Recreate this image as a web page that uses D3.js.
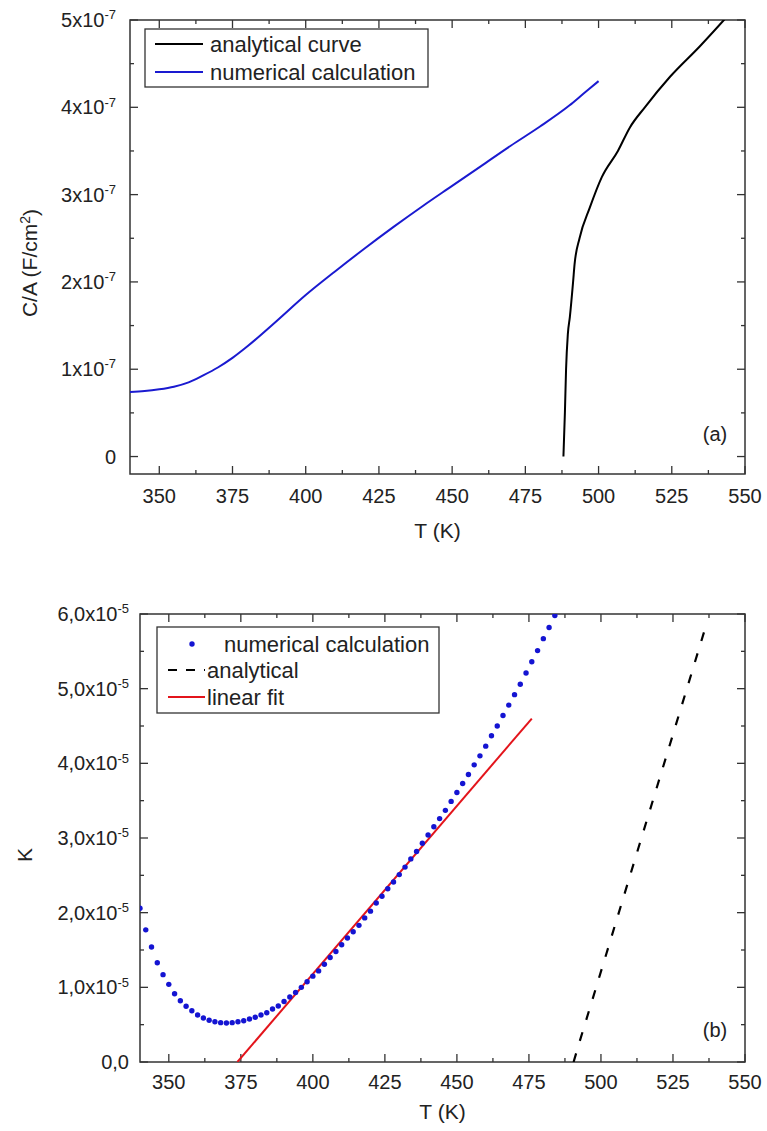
<!DOCTYPE html>
<html><head><meta charset="utf-8">
<script src="https://cdn.jsdelivr.net/npm/d3@7"></script>
<style>html,body{margin:0;padding:0;background:#fff;}svg{display:block;font-family:"Liberation Sans",Arial,sans-serif;}</style>
</head><body>
<svg id="chart" width="767" height="1131"></svg>
<script>
// ---------- DATA ----------
// Panel (a): C/A vs T
const topXTicks = [350, 375, 400, 425, 450, 475, 500, 525, 550];
const topYTicks = [0, 1, 2, 3, 4, 5];           // x 1e-7
const analyticalT = [488.0, 488.5, 488.9, 489.5, 490.2, 491.3, 491.8, 493.5, 497.0, 501.1, 506.6, 510.7, 515.8, 524.4, 534.6, 542.8, 546];
const analyticalC = [0, 0.5, 1.0, 1.4, 1.6, 2.0, 2.2, 2.5, 2.85, 3.2, 3.5, 3.77, 4.0, 4.35, 4.7, 5.0, 5.12];
const numericT = [340, 345, 350, 355, 360, 365, 370, 375, 380, 390, 400, 410, 420, 430, 440, 450, 460, 470, 480, 490, 495, 500];
const numericC = [0.74, 0.75, 0.77, 0.80, 0.85, 0.93, 1.02, 1.13, 1.26, 1.55, 1.85, 2.12, 2.38, 2.63, 2.87, 3.10, 3.33, 3.56, 3.78, 4.02, 4.16, 4.30];

// Panel (b): K vs T
const botXTicks = [350, 375, 400, 425, 450, 475, 500, 525, 550];
const botYTicks = [0, 1, 2, 3, 4, 5, 6];        // x 1e-5
const dotT = [340, 342, 344, 346, 348, 350, 352, 354, 356, 358, 360, 362, 364, 366, 368, 370, 372, 374, 376, 378, 380, 382, 384, 386, 388, 390, 392, 394, 396, 398, 400, 402, 404, 406, 408, 410, 412, 414, 416, 418, 420, 422, 424, 426, 428, 430, 432, 434, 436, 438, 440, 442, 444, 446, 448, 450, 452, 454, 456, 458, 460, 462, 464, 466, 468, 470, 472, 474, 476, 478, 480, 482, 484];
const dotK = [2.06, 1.77, 1.54, 1.33, 1.17, 1.04, 0.915, 0.82, 0.746, 0.687, 0.63, 0.59, 0.56, 0.54, 0.527, 0.522, 0.527, 0.54, 0.553, 0.576, 0.60, 0.63, 0.66, 0.71, 0.75, 0.81, 0.87, 0.93, 1.00, 1.075, 1.15, 1.22, 1.31, 1.40, 1.48, 1.57, 1.66, 1.745, 1.83, 1.93, 2.02, 2.13, 2.22, 2.32, 2.41, 2.51, 2.61, 2.72, 2.82, 2.93, 3.04, 3.15, 3.26, 3.37, 3.49, 3.61, 3.73, 3.85, 3.98, 4.10, 4.23, 4.37, 4.50, 4.64, 4.78, 4.92, 5.06, 5.21, 5.36, 5.51, 5.67, 5.82, 5.98];
const dashT = [490.5, 492.1, 501.96, 513.5, 525.1, 536.7];
const dashK = [0, 0.21, 1.46, 2.93, 4.40, 5.875];
const fitT = [373.8, 476];
const fitK = [0, 4.6];

// ---------- DRAW ----------
const svg = d3.select("#chart");
const FRAME = "#333";

function yLabel(g, y, mant, exp, anchorX, fsMain, fsSup) {
  const t = g.append("text").attr("x", anchorX).attr("y", y).attr("text-anchor", "end")
    .attr("font-size", fsMain).attr("fill", "#222").attr("dy", "0.35em");
  if (exp === null) { t.text(mant); return; }
  t.append("tspan").text(mant + "x10");
  t.append("tspan").attr("font-size", fsSup).attr("dy", "-0.6em").text(exp);
}

function panel(opts) {
  const {L, R, T, B, xDom, yDom, xTicks, xMinor, yTicks, yMinor, yScaleF, yFmt, yLabX, xLabY, xTitleY, yTitle, yTitleX, yTitleY, id, tag, tagX, tagY} = opts;
  const x = d3.scaleLinear().domain(xDom).range([L, R]);
  const y = d3.scaleLinear().domain(yDom).range([B, T]);
  const g = svg.append("g");
  svg.append("clipPath").attr("id", id).append("rect").attr("x", L).attr("y", T).attr("width", R - L).attr("height", B - T);
  const tk = g.append("g").attr("stroke", FRAME).attr("stroke-width", 1.3);
  xTicks.forEach(v => {
    tk.append("line").attr("x1", x(v)).attr("x2", x(v)).attr("y1", B).attr("y2", B - 8);
    tk.append("line").attr("x1", x(v)).attr("x2", x(v)).attr("y1", T).attr("y2", T + 8);
  });
  xMinor.forEach(v => {
    tk.append("line").attr("x1", x(v)).attr("x2", x(v)).attr("y1", B).attr("y2", B - 4);
    tk.append("line").attr("x1", x(v)).attr("x2", x(v)).attr("y1", T).attr("y2", T + 4);
  });
  yTicks.forEach(v => {
    tk.append("line").attr("y1", y(v * yScaleF)).attr("y2", y(v * yScaleF)).attr("x1", L).attr("x2", L + 8);
    tk.append("line").attr("y1", y(v * yScaleF)).attr("y2", y(v * yScaleF)).attr("x1", R).attr("x2", R - 8);
  });
  yMinor.forEach(v => {
    tk.append("line").attr("y1", y(v * yScaleF)).attr("y2", y(v * yScaleF)).attr("x1", L).attr("x2", L + 4);
    tk.append("line").attr("y1", y(v * yScaleF)).attr("y2", y(v * yScaleF)).attr("x1", R).attr("x2", R - 4);
  });
  g.append("rect").attr("x", L).attr("y", T).attr("width", R - L).attr("height", B - T)
    .attr("fill", "none").attr("stroke", FRAME).attr("stroke-width", 1.5);
  xTicks.forEach(v => {
    g.append("text").attr("x", x(v)).attr("y", xLabY).attr("text-anchor", "middle").attr("dy", "0.35em")
      .attr("font-size", 20).attr("fill", "#222").text(v);
  });
  yTicks.forEach(v => {
    const f = yFmt(v);
    yLabel(g, y(v * yScaleF), f[0], f[1], yLabX, 20, 13);
  });
  g.append("text").attr("x", (L + R) / 2).attr("y", xTitleY).attr("text-anchor", "middle").attr("dy", "0.35em")
    .attr("font-size", 21).attr("fill", "#222").text("T (K)");
  const yt = g.append("text").attr("transform", `translate(${yTitleX},${yTitleY}) rotate(-90)`)
    .attr("text-anchor", "middle").attr("dy", "0.35em").attr("font-size", 21).attr("fill", "#222");
  yTitle(yt);
  g.append("text").attr("x", tagX).attr("y", tagY).attr("text-anchor", "middle").attr("dy", "0.35em")
    .attr("font-size", 20).attr("fill", "#222").text(tag);
  return {x, y, g, clip: `url(#${id})`};
}

// ----- Panel (a) -----
const pa = panel({
  L: 130, R: 745, T: 20, B: 474, xDom: [340, 550], yDom: [-0.2e-7, 5e-7],
  xTicks: topXTicks, xMinor: topXTicks.slice(0, -1).map(v => v + 12.5),
  yTicks: topYTicks, yMinor: [0.5, 1.5, 2.5, 3.5, 4.5], yScaleF: 1e-7,
  yFmt: v => v === 0 ? ["0", null] : [String(v), "-7"],
  yLabX: 116, xLabY: 496, xTitleY: 531,
  yTitle: t => { t.append("tspan").text("C/A (F/cm"); t.append("tspan").attr("font-size", 14).attr("dy", "-0.55em").text("2"); t.append("tspan").attr("dy", "0.4em").text(")"); },
  yTitleX: 30, yTitleY: 263, id: "clipA", tag: "(a)", tagX: 715, tagY: 434
});
const lineA = d3.line().curve(d3.curveMonotoneX).x(d => pa.x(d[0])).y(d => pa.y(d[1] * 1e-7));
pa.g.append("path").attr("clip-path", pa.clip).attr("d", lineA(numericT.map((t, i) => [t, numericC[i]])))
  .attr("fill", "none").attr("stroke", "#1a1ad0").attr("stroke-width", 2);
pa.g.append("path").attr("clip-path", pa.clip).attr("d", lineA(analyticalT.map((t, i) => [t, analyticalC[i]])))
  .attr("fill", "none").attr("stroke", "#000").attr("stroke-width", 2);
const la = pa.g.append("g");
la.append("rect").attr("x", 145).attr("y", 29).attr("width", 283).attr("height", 58).attr("fill", "#fff").attr("stroke", FRAME).attr("stroke-width", 1.3);
la.append("line").attr("x1", 155).attr("x2", 203).attr("y1", 44).attr("y2", 44).attr("stroke", "#000").attr("stroke-width", 2);
la.append("text").attr("x", 210).attr("y", 44).attr("dy", "0.35em").attr("font-size", 22).attr("fill", "#222").text("analytical curve");
la.append("line").attr("x1", 155).attr("x2", 203).attr("y1", 72).attr("y2", 72).attr("stroke", "#1a1ad0").attr("stroke-width", 2);
la.append("text").attr("x", 210).attr("y", 72).attr("dy", "0.35em").attr("font-size", 22).attr("fill", "#222").text("numerical calculation");

// ----- Panel (b) -----
const pb = panel({
  L: 140, R: 745, T: 614, B: 1062, xDom: [340, 550], yDom: [0, 6e-5],
  xTicks: botXTicks, xMinor: botXTicks.slice(0, -1).map(v => v + 12.5),
  yTicks: botYTicks, yMinor: [0.5, 1.5, 2.5, 3.5, 4.5, 5.5], yScaleF: 1e-5,
  yFmt: v => v === 0 ? ["0,0", null] : [v.toFixed(1).replace(".", ","), "-5"],
  yLabX: 129, xLabY: 1082, xTitleY: 1112,
  yTitle: t => t.text("K"),
  yTitleX: 25, yTitleY: 855, id: "clipB", tag: "(b)", tagX: 715, tagY: 1030
});
const lineB = d3.line().x(d => pb.x(d[0])).y(d => pb.y(d[1] * 1e-5));
pb.g.append("path").attr("clip-path", pb.clip).attr("d", lineB(fitT.map((t, i) => [t, fitK[i]])))
  .attr("fill", "none").attr("stroke", "#e3141b").attr("stroke-width", 2);
pb.g.append("path").attr("clip-path", pb.clip).attr("d", lineB(dashT.map((t, i) => [t, dashK[i]])))
  .attr("fill", "none").attr("stroke", "#000").attr("stroke-width", 2.2).attr("stroke-dasharray", "9,13");
pb.g.append("g").attr("clip-path", pb.clip).selectAll("circle").data(dotT.map((t, i) => [t, dotK[i]])).join("circle")
  .attr("cx", d => pb.x(d[0])).attr("cy", d => pb.y(d[1] * 1e-5)).attr("r", 2.7).attr("fill", "#1414d2");
const lb = pb.g.append("g");
lb.append("rect").attr("x", 157).attr("y", 627).attr("width", 282).attr("height", 86).attr("fill", "#fff").attr("stroke", FRAME).attr("stroke-width", 1.3);
lb.append("circle").attr("cx", 192).attr("cy", 644).attr("r", 2.7).attr("fill", "#1414d2");
lb.append("text").attr("x", 224).attr("y", 644).attr("dy", "0.35em").attr("font-size", 22).attr("fill", "#222").text("numerical calculation");
lb.append("line").attr("x1", 168).attr("x2", 205).attr("y1", 670).attr("y2", 670).attr("stroke", "#000").attr("stroke-width", 2.2).attr("stroke-dasharray", "9,9");
lb.append("text").attr("x", 207).attr("y", 670).attr("dy", "0.35em").attr("font-size", 22).attr("fill", "#222").text("analytical");
lb.append("line").attr("x1", 168).attr("x2", 205).attr("y1", 697).attr("y2", 697).attr("stroke", "#e3141b").attr("stroke-width", 2);
lb.append("text").attr("x", 207).attr("y", 697).attr("dy", "0.35em").attr("font-size", 22).attr("fill", "#222").text("linear fit");
</script>
</body></html>
